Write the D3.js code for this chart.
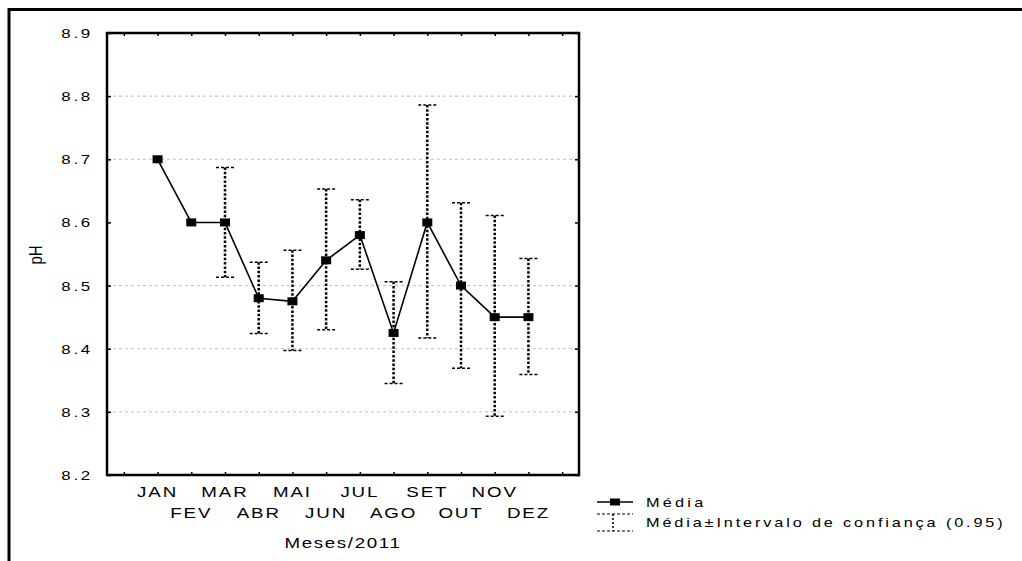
<!DOCTYPE html>
<html>
<head>
<meta charset="utf-8">
<script src="https://cdn.jsdelivr.net/npm/d3@7"></script>
<style>
  body { margin: 0; background: #fff; }
  text { font-family: "Liberation Sans", Arial, sans-serif; fill: #000; }
</style>
</head>
<body>
<div id="body"></div>
<script>
// data
var months = ["JAN", "FEV", "MAR", "ABR", "MAI", "JUN", "JUL", "AGO", "SET", "OUT", "NOV", "DEZ"];
var media = [8.70, 8.60, 8.60, 8.48, 8.475, 8.54, 8.58, 8.425, 8.60, 8.50, 8.45, 8.45];
var ciUpper = [null, null, 8.687, 8.537, 8.556, 8.653, 8.636, 8.506, 8.786, 8.631, 8.611, 8.543];
var ciLower = [null, null, 8.513, 8.424, 8.397, 8.430, 8.526, 8.345, 8.417, 8.369, 8.293, 8.359];
var yTicks = [8.2, 8.3, 8.4, 8.5, 8.6, 8.7, 8.8, 8.9];
var gridVals = [8.3, 8.4, 8.5, 8.7, 8.8];
var legendLabels = ["Média", "Média±Intervalo de confiança (0.95)"];

var W = 1022, H = 561;
var plot = { left: 107, right: 579, top: 33, bottom: 475 };
var SX = 1.25; // horizontal stretch of the original raster text

var svg = d3.select("#body").append("svg")
  .attr("width", W).attr("height", H);

// stretched text helper
function stext(x, y, str, size, ls, anchor) {
  var g = svg.append("g").attr("transform", "translate(" + x + "," + y + ") scale(" + SX + ",1)");
  g.append("text")
    .attr("text-anchor", anchor || "start")
    .style("font-size", size + "px")
    .style("letter-spacing", ls + "px")
    .text(str);
  return g;
}

// outer frame (top and left only)
svg.append("line").attr("x1", 8).attr("x2", W).attr("y1", 9.5).attr("y2", 9.5)
  .attr("stroke", "#000").attr("stroke-width", 3);
svg.append("line").attr("x1", 9).attr("x2", 9).attr("y1", 8).attr("y2", H)
  .attr("stroke", "#000").attr("stroke-width", 3);

// scales
var xScale = d3.scaleLinear().domain([-0.5, 13.5]).range([plot.left, plot.right]);
var yScale = d3.scaleLinear().domain([8.2, 8.9]).range([plot.bottom, plot.top]);

// gridlines
svg.selectAll(".grid").data(gridVals).enter().append("line")
  .attr("x1", plot.left).attr("x2", plot.right)
  .attr("y1", function (d) { return yScale(d); })
  .attr("y2", function (d) { return yScale(d); })
  .attr("stroke", "#bdbdbd").attr("stroke-width", 1)
  .attr("stroke-dasharray", "3,3");

// axes with inward ticks
var xTickVals = d3.range(0, 14);
svg.append("g").attr("transform", "translate(0," + plot.bottom + ")")
  .call(d3.axisTop(xScale).tickValues(xTickVals).tickSize(3).tickFormat(""));
svg.append("g").attr("transform", "translate(0," + plot.top + ")")
  .call(d3.axisBottom(xScale).tickValues(xTickVals).tickSize(3).tickFormat(""));
svg.append("g").attr("transform", "translate(" + plot.left + ",0)")
  .call(d3.axisRight(yScale).tickValues(yTicks).tickSize(4).tickFormat(""));
svg.append("g").attr("transform", "translate(" + plot.right + ",0)")
  .call(d3.axisLeft(yScale).tickValues(yTicks).tickSize(4).tickFormat(""));
svg.selectAll(".domain").remove();
svg.selectAll(".tick line").attr("stroke", "#000").attr("stroke-width", 1.5);

// plot frame
svg.append("rect")
  .attr("x", plot.left).attr("y", plot.top)
  .attr("width", plot.right - plot.left).attr("height", plot.bottom - plot.top)
  .attr("fill", "none").attr("stroke", "#000").attr("stroke-width", 2.5);

// y tick labels
yTicks.forEach(function (v) {
  stext(93, yScale(v) + 5, d3.format(".1f")(v), 13.5, 2.2, "end");
});

// x labels, two rows
months.forEach(function (m, i) {
  var row = i % 2;
  stext(xScale(i + 1), row === 0 ? 497 : 518, m, 15, 1.5, "middle");
});

stext((plot.left + plot.right) / 2, 548, "Meses/2011", 15, 1.3, "middle");

// y label
svg.append("g").attr("transform", "translate(42,255) scale(" + SX + ",1) rotate(-90)")
  .append("text").attr("text-anchor", "middle")
  .style("font-size", "15px").text("pH");

// error bars
var ci = months.map(function (m, i) {
  return { i: i, hi: ciUpper[i], lo: ciLower[i] };
}).filter(function (d) { return d.hi !== null; });

var eb = svg.append("g");
eb.selectAll(".whisk").data(ci).enter().append("line")
  .attr("x1", function (d) { return xScale(d.i + 1); })
  .attr("x2", function (d) { return xScale(d.i + 1); })
  .attr("y1", function (d) { return yScale(d.hi); })
  .attr("y2", function (d) { return yScale(d.lo); })
  .attr("stroke", "#000").attr("stroke-width", 2.5).attr("stroke-dasharray", "2.5,1.8");
["hi", "lo"].forEach(function (k) {
  eb.selectAll(".cap-" + k).data(ci).enter().append("line")
    .attr("x1", function (d) { return xScale(d.i + 1) - 9; })
    .attr("x2", function (d) { return xScale(d.i + 1) + 9; })
    .attr("y1", function (d) { return yScale(d[k]); })
    .attr("y2", function (d) { return yScale(d[k]); })
    .attr("stroke", "#000").attr("stroke-width", 1.5).attr("stroke-dasharray", "3,2");
});

// mean line
var line = d3.line()
  .x(function (d, i) { return xScale(i + 1); })
  .y(function (d) { return yScale(d); });
svg.append("path").datum(media)
  .attr("d", line).attr("fill", "none")
  .attr("stroke", "#000").attr("stroke-width", 1.6);

svg.selectAll(".pt").data(media).enter().append("rect")
  .attr("x", function (d, i) { return xScale(i + 1) - 5; })
  .attr("y", function (d) { return yScale(d) - 4; })
  .attr("width", 10).attr("height", 8).attr("fill", "#000");

// legend
var lx = 597, lw = 36;
svg.append("line").attr("x1", lx).attr("x2", lx + lw).attr("y1", 502).attr("y2", 502)
  .attr("stroke", "#000").attr("stroke-width", 1.5);
svg.append("rect").attr("x", lx + lw / 2 - 5).attr("y", 498.5)
  .attr("width", 10).attr("height", 7).attr("fill", "#000");
[514, 531].forEach(function (yy) {
  svg.append("line").attr("x1", lx).attr("x2", lx + lw).attr("y1", yy).attr("y2", yy)
    .attr("stroke", "#000").attr("stroke-width", 1).attr("stroke-dasharray", "3,2");
});
svg.append("line").attr("x1", lx + 16).attr("x2", lx + 16).attr("y1", 514).attr("y2", 531)
  .attr("stroke", "#000").attr("stroke-width", 1.5).attr("stroke-dasharray", "2,2");
stext(646, 507, legendLabels[0], 13, 2.6, "start");
stext(646, 527, legendLabels[1], 13, 2.3, "start");
</script>
</body>
</html>
